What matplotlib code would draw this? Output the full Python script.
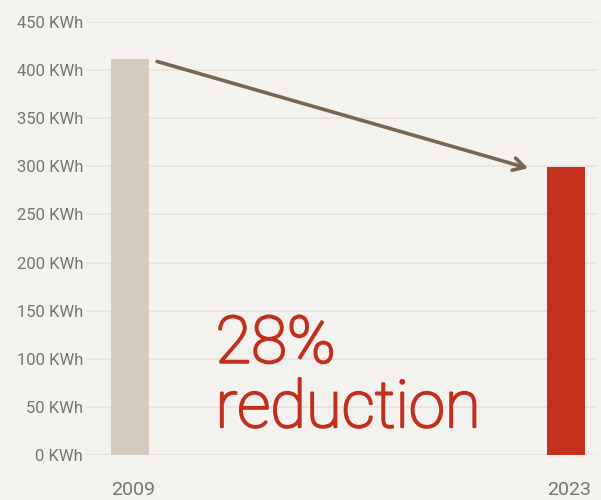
import matplotlib.pyplot as plt
import matplotlib.patheffects as pe

# ==========================================================
# DATA
# ==========================================================

years = ["2009", "2023"]
usage_kwh = [412, 299]
y_ticks = [0, 50, 100, 150, 200, 250, 300, 350, 400, 450]
tick_labels = [f"{t} KWh" for t in y_ticks]
callout = ["28%", "reduction"]

BG = "#f3f2ee"
GRID = "#e6e3dd"
BAR_COLORS = ["#d4ccc0", "#c0301c"]
ARROW = "#7a6650"
TEXT_GREY = "#757575"

plt.rcParams["font.family"] = ["Roboto", "DejaVu Sans"]

fig = plt.figure(figsize=(6.01, 5.0), dpi=100, facecolor=BG)
ax = fig.add_axes([86 / 601, 45 / 500, 511 / 601, 433 / 500])
ax.set_facecolor(BG)

x = [0, 1]
ax.bar(x, usage_kwh, width=0.087, color=BAR_COLORS, zorder=2)

ax.set_xlim(-0.101, 1.071)
ax.set_ylim(0, 450)
ax.set_yticks(y_ticks)
ax.set_yticklabels(tick_labels)
ax.tick_params(axis="y", length=0, pad=2, labelsize=12, labelcolor=TEXT_GREY)
ax.set_xticks([])
ax.grid(axis="y", color=GRID, linewidth=1.2, zorder=0)
for s in ax.spines.values():
    s.set_visible(False)

# year labels, left-aligned with each bar
for xi, lab in zip(x, years):
    ax.annotate(lab, xy=(xi - 0.0435, 0), xycoords=("data", "axes fraction"),
                xytext=(0, -19), textcoords="offset points",
                ha="left", va="top", fontsize=14, color=TEXT_GREY)

# arrow between bar tops
ax.annotate("", xy=(0.913, usage_kwh[1] - 1), xytext=(0.062, usage_kwh[0] - 3),
            arrowprops=dict(arrowstyle="->,head_length=0.8,head_width=0.45",
                            color=ARROW, lw=2.6, shrinkA=0, shrinkB=0))

# light weight is thin here, so thicken it a touch with a stroke
thicken = [pe.withStroke(linewidth=1.6, foreground=BAR_COLORS[1])]
ax.text(0.196, 96, callout[0], fontsize=47, color=BAR_COLORS[1],
        fontweight="light", ha="left", va="baseline", path_effects=thicken)
ax.text(0.196, 29, callout[1], fontsize=47, color=BAR_COLORS[1],
        fontweight="light", ha="left", va="baseline", path_effects=thicken)

fig.savefig("out.png", dpi=100, facecolor=BG)
